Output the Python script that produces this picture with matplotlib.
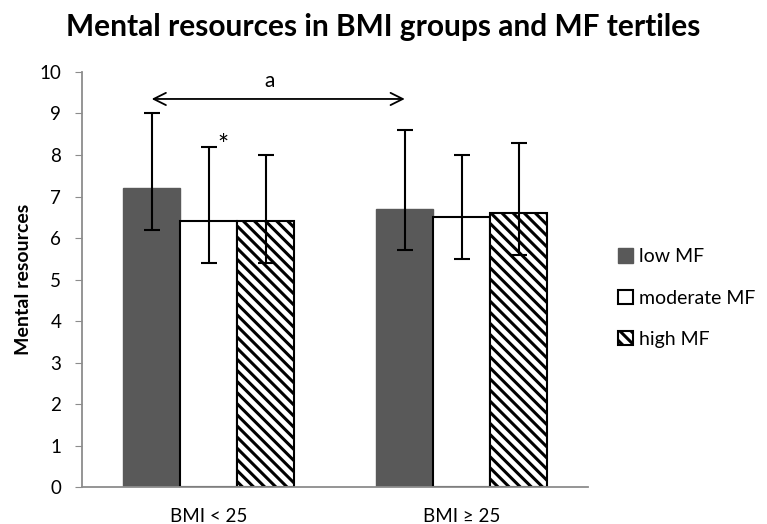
import matplotlib
matplotlib.use("Agg")
import matplotlib.pyplot as plt
import numpy as np

categories = ["BMI < 25", "BMI \u2265 25"]
series = ["low MF", "moderate MF", "high MF"]
means = {
    "low MF": [7.2, 6.7],
    "moderate MF": [6.4, 6.5],
    "high MF": [6.4, 6.6],
}
upper = {
    "low MF": [9.0, 8.6],
    "moderate MF": [8.2, 8.0],
    "high MF": [8.0, 8.3],
}
lower = {
    "low MF": [6.2, 5.7],
    "moderate MF": [5.4, 5.5],
    "high MF": [5.4, 5.6],
}
yticks = list(range(0, 11))

plt.rcParams['font.family'] = ['Lato', 'DejaVu Sans']
plt.rcParams['hatch.linewidth'] = 2.2

fig = plt.figure(figsize=(7.67, 5.24), dpi=100)
ax = fig.add_axes([0.107, 0.0706, 0.66, 0.792])

x = np.arange(len(categories))
w = 0.225
styles = {
    "low MF": dict(color="#595959", edgecolor="#595959"),
    "moderate MF": dict(color="white", edgecolor="black", linewidth=1.5),
    "high MF": dict(color="white", edgecolor="black", linewidth=1.5, hatch="\\\\\\"),
}
handles = []
for i, s in enumerate(series):
    xs = x + (i - 1) * w
    m = np.array(means[s])
    up = np.array(upper[s]) - m
    lo = m - np.array(lower[s])
    b = ax.bar(xs, m, width=w, label=s, zorder=2, **styles[s])
    ax.errorbar(xs, m, yerr=[lo, up], fmt="none", ecolor="black",
                elinewidth=1.5, capsize=6, capthick=1.5, zorder=3)
    handles.append(b)

ax.set_xlim(-0.5, 1.5)
ax.set_ylim(0, 10)
ax.set_yticks(yticks)
ax.set_xticks(x)
ax.set_xticklabels(categories, fontsize=13.5)
ax.tick_params(axis="x", length=0, pad=15)
ax.tick_params(axis="y", length=5, color="#8c8c8c", labelsize=13.5, pad=10)
for sp in ["top", "right"]:
    ax.spines[sp].set_visible(False)
for sp in ["left", "bottom"]:
    ax.spines[sp].set_color("#8c8c8c")
    ax.spines[sp].set_linewidth(1.3)

ax.set_ylabel("Mental resources", fontsize=14, fontweight="bold", labelpad=5)

# significance arrow between low MF bars
x0 = x[0] - w
x1 = x[1] - w
ax.annotate("", xy=(x0, 9.35), xytext=(x1, 9.35),
            arrowprops=dict(arrowstyle="<->", color="black", lw=1.3,
                            mutation_scale=22, shrinkA=0, shrinkB=0))
ax.text(0.24, 9.55, "a", ha="center", va="bottom", fontsize=15)
ax.text(x[0] + 0.035, 7.9, "*", ha="left", va="bottom", fontsize=19)

fig.suptitle("Mental resources in BMI groups and MF tertiles", x=0.5, y=0.975,
             fontsize=21.5, fontweight="bold")

leg = ax.legend(handles=handles, labels=series, loc="center left",
                bbox_to_anchor=(1.025, 0.455), frameon=False, fontsize=14,
                handlelength=0.75, handleheight=0.75, handletextpad=0.3,
                labelspacing=1.25)

fig.savefig("out.png", dpi=100)
